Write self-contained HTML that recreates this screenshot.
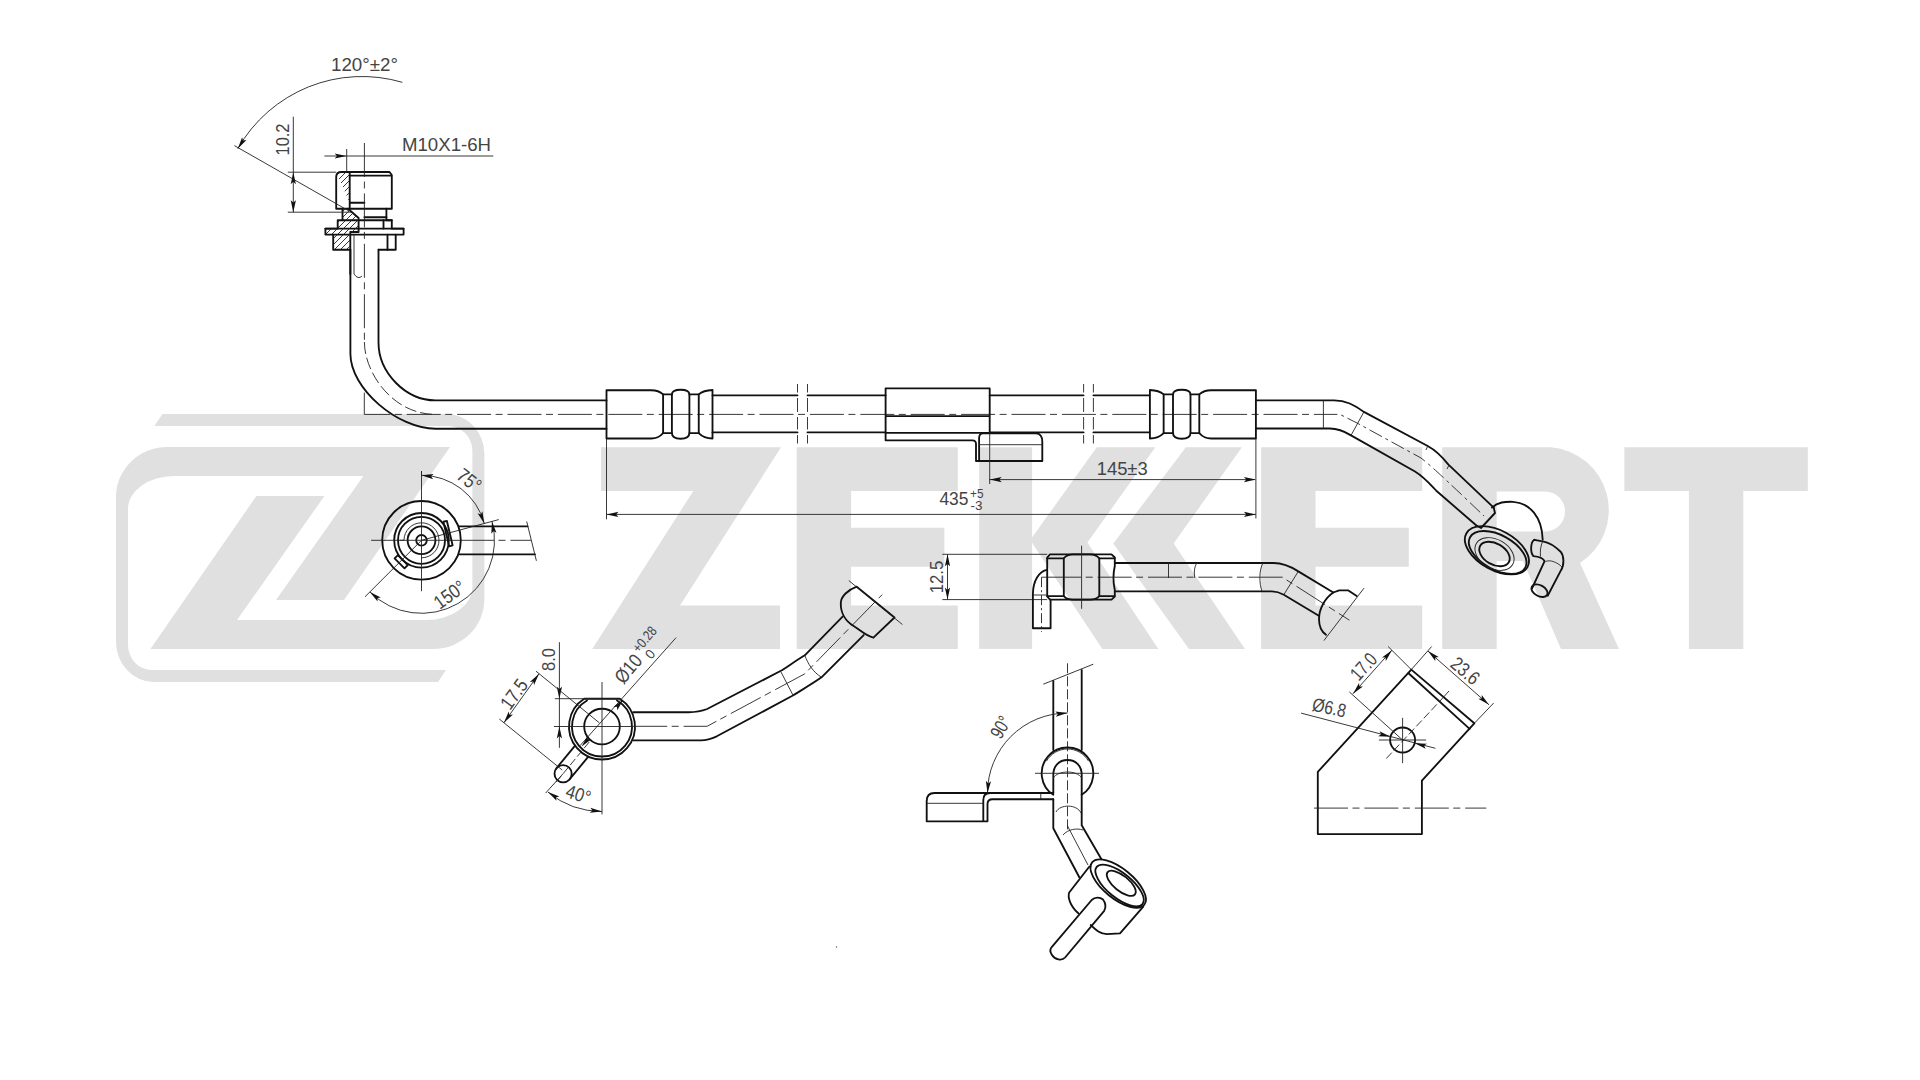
<!DOCTYPE html>
<html><head><meta charset="utf-8"><style>
html,body{margin:0;padding:0;background:#fff;width:1920px;height:1080px;overflow:hidden}
svg{display:block}
text{font-family:"Liberation Sans",sans-serif;fill:#444}
.k{fill:none;stroke:#111;stroke-width:1.85;stroke-linejoin:round;stroke-linecap:round}
.t{fill:none;stroke:#222;stroke-width:0.9}
.c{fill:none;stroke:#222;stroke-width:0.9;stroke-dasharray:34 4.5 7 4.9}
.a{fill:#111;stroke:none}
</style></head>
<body>
<svg width="1920" height="1080" viewBox="0 0 1920 1080">
<g fill="#e0e0e0" stroke="none">
 <path id="lgB" d="M450,447 H167 A51,50 0 0 0 116,497 V642 A38,40 0 0 0 154,682 H438 L446,670 H152 A24,25 0 0 1 128,645 V509 A46,33 0 0 1 174,476 H363.4 L276,600 H344 Z"/>
 <use href="#lgB" transform="rotate(180 300.2 548)"/>
 <path d="M601,447.3 H781 L680,605.6 H780 V648.9 H592.2 L693.3,491.1 H601 Z"/>
 <path id="lE" d="M796.7,447.3 H957.8 V491.1 H851.1 V527.8 H944.4 V566.7 H851.1 V605.6 H957.8 V648.9 H796.7 Z"/>
 <rect x="979.2" y="447.3" width="52.9" height="201.6"/>
 <path d="M1096.8,447.3 H1155.3 L1087.4,542.5 L1158.4,648.9 H1102.4 L1031.9,542.5 L1028.4,542.5 Z"/>
 <path d="M1185.9,447.3 H1241.9 L1173.6,543.5 L1245,648.9 H1189 L1113.3,543.5 Z"/>
 <use href="#lE" transform="translate(464.4 0)"/>
 <path fill-rule="evenodd" d="M1442.2,447.3 H1551 A63,63 0 0 1 1580,563 L1619,648.9 H1561 L1523,561 H1496.7 V648.9 H1442.2 Z M1496.7,491.5 H1545 A20,20 0 0 1 1545,531.5 H1496.7 Z"/>
 <path d="M1624.4,447.3 H1807.8 V491.1 H1743.3 V648.9 H1688.9 V491.1 H1624.4 Z"/>
</g>
<path class="k" d="M336.2,208.7 V177 Q336.2,172 341.5,172 H389.5 L391.8,175 V208.7 Z"/>
<path class="k" d="M349.7,175.6 H391"/>
<path class="k" d="M349.7,173 V202.7 H364.4 M349.7,202.7 V208.7"/>
<path class="k" d="M342.5,208.7 V220.2 H337.7 V228.6 H325.4 V234.6 H333.2 V249.7 H350.3 M378.6,249.7 H395.7 V234.6 H403.6 V228.6 H391.8 V220.2 H386.4 V208.7"/>
<path class="k" d="M342.5,220.2 H391.8 M325.4,228.6 H403.6 M333.2,234.6 H395.7"/>
<path class="k" d="M364.4,217.2 H386.4 M383.5,220.2 V228.6 M387.5,234.6 V249.7 M348,208.7 L358.6,218 V232 H350.3 V274"/>
<path class="t" d="M354,234.6 V274"/>
<path class="t" d="M354,274 Q358,280 362,276"/>
<clipPath id="hc"><path d="M336.2,172 H349.7 V208.7 H342.5 V220.2 H337.7 V228.6 H325.4 V234.6 H333.2 V249.7 H350.3 V232 H358.6 V218 L348,208.7 H349.7 V202.7 Z"/></clipPath>
<path class="t" d="M228,260 L328,160 M234,260 L334,160 M240,260 L340,160 M246,260 L346,160 M252,260 L352,160 M258,260 L358,160 M264,260 L364,160 M270,260 L370,160 M276,260 L376,160 M282,260 L382,160 M288,260 L388,160 M294,260 L394,160 M300,260 L400,160 M306,260 L406,160 M312,260 L412,160 M318,260 L418,160 M324,260 L424,160 M330,260 L430,160 M336,260 L436,160 M342,260 L442,160 M348,260 L448,160 M354,260 L454,160 M360,260 L460,160 M366,260 L466,160 M372,260 L472,160 M378,260 L478,160 M384,260 L484,160 M390,260 L490,160 M396,260 L496,160 M402,260 L502,160 M408,260 L508,160 M414,260 L514,160 " clip-path="url(#hc)"/>
<path class="t" d="M293.3,116.7 L293.3,212.2"/>
<path class="a" d="M293.3,172.2 L290.7,184.2 L293.3,181.8 L295.9,184.2 Z"/>
<path class="a" d="M293.3,212.2 L295.9,200.2 L293.3,202.6 L290.7,200.2 Z"/>
<path class="t" d="M287.8,172.2 L336.2,172.2"/>
<path class="t" d="M287.8,212.2 L351,212.2"/>
<text x="288.5" y="139.5" font-size="19" text-anchor="middle" transform="rotate(-90 288.5 139.5)" textLength="32" lengthAdjust="spacingAndGlyphs">10.2</text>
<path class="t" d="M324.4,156 L493.3,156"/>
<path class="a" d="M346.6,156 L334.6,153.4 L337,156 L334.6,158.6 Z"/>
<path class="t" d="M346.7,149 L346.7,172"/>
<text x="402" y="151" font-size="19" text-anchor="start" textLength="89" lengthAdjust="spacingAndGlyphs">M10X1-6H</text>
<path class="t" d="M237.79,148.65 A143,143 0 0 1 402.37,82.32"/>
<path class="a" d="M237.79,148.65 L246.48,139.98 L242.99,140.58 L242.11,137.16 Z"/>
<path class="t" d="M234.4,145.6 L349,211"/>
<text x="331" y="71" font-size="19" text-anchor="start" textLength="67" lengthAdjust="spacingAndGlyphs">120°±2°</text>
<path class="c" d="M364.4,143 V342"/>
<path class="t" d="M364.4,342 C364.4,372 392,414.4 435.6,414.4" stroke-dasharray="12 4"/>
<path class="t" d="M364.3,392.6 L364.3,414.4"/>
<path class="t" d="M364.3,414.4 L380,414.4"/>
<path class="c" d="M380,414.4 H1323.4" stroke-dashoffset="23.7"/>
<path class="k" d="M350.4,249.7 V353.7 C350.4,388.7 397.6,428.7 435.6,428.7 H606.5"/>
<path class="k" d="M378.5,249.7 V342.6 C378.5,372.6 405.6,400.4 435.6,400.4 H606.5"/>
<g id="fer">
<path class="k" d="M606.5,390.25 H651.25 C657.5,390.25 660,391.5 663.1,394.4 V433.1 C660,436.5 657.5,438.5 651.25,438.5 H606.5 Z"/>
<path class="k" d="M663.1,394.4 H671.9 M663.1,433.1 H671.9"/>
<path class="k" d="M671.9,433.1 V394.4 C671.9,391 675,389.75 680.6,389.75 C686,389.75 689.4,391 689.4,394.4 V433.1 C689.4,437 686,438.75 680.6,438.75 C675,438.75 671.9,437 671.9,433.1 Z"/>
<path class="k" d="M689.4,394.4 H698.75 V433.1 H689.4"/>
<path class="k" d="M698.75,394.4 C702,391.5 706,390.25 712.5,390 V438.5 C706,438.4 702,436.5 698.75,433.1"/>
</g>
<use href="#fer" transform="matrix(-1 0 0 1 1862.4 0)"/>
<path class="k" d="M712.5,395.3 H797.5 M712.5,432.4 H797.5"/>
<path class="k" d="M807.5,395.3 H885.6 M807.5,432.4 H885.6"/>
<path class="k" d="M989.7,395.3 H1083.6 M989.7,432.4 H1083.6"/>
<path class="k" d="M1093.4,395.3 H1149.2 M1093.4,432.4 H1149.2"/>
<path class="t" d="M797.5,384 V392.5 M797.5,398 V412 M797.5,417 V429.5 M797.5,435 V443.5"/>
<path class="t" d="M807.5,384 V392.5 M807.5,398 V412 M807.5,417 V429.5 M807.5,435 V443.5"/>
<path class="t" d="M1083.6,384 V392.5 M1083.6,398 V412 M1083.6,417 V429.5 M1083.6,435 V443.5"/>
<path class="t" d="M1093.4,384 V392.5 M1093.4,398 V412 M1093.4,417 V429.5 M1093.4,435 V443.5"/>
<path class="k" d="M885.6,388.3 H989.7 V432.8 H885.6 Z M885.6,416.1 H989.7"/>
<path class="k" d="M885.6,432.8 V440.3 H972.5 Q976,440.3 976,444 V461 H1042.3 V442 Q1042.3,433.3 1036,433.3 H983 Q979.1,433.3 979.1,438 V461"/>
<path class="t" d="M979.1,444.7 H1042.3"/>
<path class="k" d="M1255.9,400.3 H1334 C1346,400.3 1354,405 1363.9,411.9 L1427.7,446 C1438,451.5 1444,459 1449,465.2 L1493.7,507.7"/>
<path class="k" d="M1255.9,428.5 H1329.8 C1338,428.5 1344,431 1351,435.4 L1415,471.5 C1424,477 1430,484 1436.3,490.7 L1476.7,525.8"/>
<path class="k" d="M1476.7,525.8 L1481,528 L1495,513 L1493.7,507.7"/>
<path class="t" d="M1323.4,400.3 L1323.4,428.5"/>
<path class="t" d="M1363.9,411.9 L1351,435.4"/>
<path class="t" d="M1323.4,414.4 H1340 L1357,423 L1421,458 C1430,465 1440,474 1484,516" stroke-dasharray="14 4 3 4"/>
<path class="t" d="M1427.7,446 L1426,450"/>
<path class="t" d="M1449,465.2 L1447,469"/>
<path class="k" d="M1492,507.5 C1498,502 1505,501.6 1513,501.8 C1530,503 1542,517 1542.7,539.7"/>
<g transform="rotate(28.8 1496.9 550.3)">
<ellipse class="k" cx="1496.9" cy="550.3" rx="34.9" ry="19.75"/>
<ellipse class="k" cx="1498.6" cy="551.8" rx="31.5" ry="17.2"/>
</g>
<g transform="rotate(30 1494.5 554)">
<ellipse class="t" cx="1494.5" cy="554" rx="21" ry="14.5"/>
<ellipse class="k" cx="1494.5" cy="554" rx="16.5" ry="10.5"/>
</g>
<path class="k" d="M1534.4,539.8 L1542.6,541.3 C1550,542.5 1556,547 1560.9,552 C1564,556 1564.5,565 1560.9,570.4 L1547.7,595.8"/>
<ellipse class="k" cx="1539.5" cy="590.7" rx="8.7" ry="5.4" transform="rotate(28 1539.5 590.7)"/>
<path class="k" d="M1532.2,588 L1544.6,561.2 C1543,558 1538,556.5 1533.4,556.1 C1530,552 1530.5,542 1534.4,539.8"/>
<path class="t" d="M1542.6,541.3 C1540.5,546 1540,552 1540.5,556.5 M1545.5,561.5 C1550,559.5 1557,562 1562,567"/>
<path class="t" d="M989.7,432.8 L989.7,484"/>
<path class="t" d="M1255.9,438.5 L1255.9,518.5"/>
<path class="t" d="M606.5,438.5 L606.5,519.4"/>
<path class="t" d="M989.4,479.6 L1255,479.6"/>
<path class="a" d="M989.7,479.6 L1001.7,482.2 L999.3,479.6 L1001.7,477 Z"/>
<path class="a" d="M1255.9,479.6 L1243.9,477 L1246.3,479.6 L1243.9,482.2 Z"/>
<text x="1096.7" y="474.8" font-size="19" text-anchor="start" textLength="51" lengthAdjust="spacingAndGlyphs">145±3</text>
<path class="t" d="M606.5,514.4 L1255.9,514.4"/>
<path class="a" d="M606.5,514.4 L618.5,517 L616.1,514.4 L618.5,511.8 Z"/>
<path class="a" d="M1255.9,514.4 L1243.9,511.8 L1246.3,514.4 L1243.9,517 Z"/>
<text x="939.4" y="505.4" font-size="19" text-anchor="start" textLength="29" lengthAdjust="spacingAndGlyphs">435</text>
<text x="970" y="497.7" font-size="13.5" text-anchor="start" textLength="13.5" lengthAdjust="spacingAndGlyphs">+5</text>
<text x="970.5" y="510.2" font-size="13.5" text-anchor="start" textLength="12" lengthAdjust="spacingAndGlyphs">-3</text>
<circle class="k" cx="421.5" cy="540.3" r="39.3"/>
<circle class="k" cx="421.5" cy="540.3" r="27.3"/>
<circle class="k" cx="421.5" cy="540.3" r="23.5"/>
<circle class="k" cx="421.5" cy="540.3" r="13.9"/>
<circle class="k" cx="421.5" cy="540.3" r="5.3"/>
<path class="t" d="M404,540.3 A17.5,17.5 0 1 1 421.5,557.8"/>
<path class="t" d="M399.5,540.3 L404,540.3"/>
<path class="t" d="M371.1,540.3 L460,540.3"/>
<path class="t" d="M421.5,471.1 L421.5,591.2"/>
<path class="c" d="M460,540.3 H531"/>
<path class="k" d="M443.4,521.7 L446.9,521 L452.6,545.3 L449.1,546.3 Z"/>
<path class="k" d="M394.6,558.3 L397.9,555.1 L407.8,565 L404.5,568.3 Z"/>
<path class="k" d="M459.5,526.4 H527.5 M459.5,554.3 H535"/>
<path class="t" d="M526.7,521.5 L536.4,560.8"/>
<path class="t" d="M421.5,540.3 L498.77,519.59"/>
<path class="t" d="M421.5,540.3 L364.93,596.87"/>
<path class="t" d="M421.5,475.3 A65,65 0 0 1 484.29,523.48"/>
<path class="a" d="M421.5,475.3 L433.16,479.14 L431.05,476.3 L433.71,473.97 Z"/>
<path class="a" d="M484.29,523.48 L482.41,511.34 L480.84,514.51 L477.56,513.21 Z"/>
<path class="t" d="M492.01,521.41 A73,73 0 0 1 369.88,591.92"/>
<path class="a" d="M492.01,521.41 L491.32,533.67 L493.51,530.89 L496.46,532.85 Z"/>
<path class="a" d="M369.88,591.92 L377.57,601.49 L377.34,597.96 L380.84,597.45 Z"/>
<path class="t" d="M421.5,475.3 L421.5,471"/>
<text x="465" y="485.5" font-size="19.5" text-anchor="middle" transform="rotate(38 465 485.5)" textLength="25" lengthAdjust="spacingAndGlyphs">75°</text>
<text x="453.5" y="600" font-size="19.5" text-anchor="middle" transform="rotate(-36 453.5 600)" textLength="34" lengthAdjust="spacingAndGlyphs">150°</text>
<path class="k" d="M584.2,698.7 H619.8 A33,33 0 1 1 584.2,698.7 Z"/>
<path class="k" d="M617,700.52 A30,30 0 1 1 587,700.52"/>
<circle class="k" cx="602" cy="726.5" r="17.8"/>
<path class="k" d="M575.07,745.64 L556.46,768.23"/>
<path class="k" d="M588.35,756.59 L569.74,779.17"/>
<circle class="k" cx="563.1" cy="773.7" r="8.6"/>
<path class="t" d="M589.28,741.93 L554.19,784.5" stroke-dasharray="8 3"/>
<path class="k" d="M633.2,712.2 H688.6 C697,712.2 702,711 707.1,709 L781.9,670.3 C790,665 797,660 804.8,655.3 L842.6,616.6"/>
<path class="k" d="M633.2,740.3 H701 C708,740.3 712,738.5 716.8,736.3 L792.4,695.8 C805,688 815,682 821.5,677.3 L863.7,635.1"/>
<path class="k" d="M856.7,586.7 C848,590 841,596 840.8,603 C840.5,612 845,621 854,626.3 C860,630 866,636 873.4,637.7 L894.5,617.5 Z"/>
<path class="t" d="M848.8,580.6 L902.4,624.5"/>
<path class="t" d="M781,672 L793.3,695.8"/>
<path class="t" d="M804.8,655.3 C808,664 813,672 821.5,677.3"/>
<path class="c" d="M633.2,726.3 H707.1 L804.8,673.8 L882.2,594.6"/>
<path class="t" d="M553.9,726.5 L633.2,726.5"/>
<path class="t" d="M559.4,642.2 L559.4,747.8"/>
<path class="a" d="M559.4,698.7 L562,686.7 L559.4,689.1 L556.8,686.7 Z"/>
<path class="a" d="M559.4,726.5 L556.8,738.5 L559.4,736.1 L562,738.5 Z"/>
<path class="t" d="M554.8,698.7 L619.6,698.7"/>
<text x="555" y="659.5" font-size="19" text-anchor="middle" transform="rotate(-90 555 659.5)" textLength="23" lengthAdjust="spacingAndGlyphs">8.0</text>
<path class="t" d="M539,673.7 L503.9,722.8"/>
<path class="a" d="M539,673.7 L529.85,681.89 L533.36,681.47 L534.06,684.94 Z"/>
<path class="a" d="M503.9,722.8 L512.98,714.53 L509.47,714.98 L508.74,711.52 Z"/>
<path class="t" d="M536,671.2 L599.3,722.8"/>
<path class="t" d="M499.3,719 L562.2,770"/>
<text x="519.5" y="698" font-size="19.5" text-anchor="middle" transform="rotate(-54 519.5 698)" textLength="32" lengthAdjust="spacingAndGlyphs">17.5</text>
<path class="t" d="M676.1,637.6 L579.8,745.9"/>
<path class="a" d="M623.3,699.6 L613.44,706.91 L616.97,706.82 L617.35,710.34 Z"/>
<path class="a" d="M581.6,746.5 L591.47,739.19 L587.93,739.28 L587.56,735.76 Z"/>
<text x="633.4" y="673.2" font-size="19.5" text-anchor="middle" transform="rotate(-50 633.4 673.2)" textLength="31" lengthAdjust="spacingAndGlyphs">Ø10</text>
<text x="648.2" y="642.4" font-size="14" text-anchor="middle" transform="rotate(-50 648.2 642.4)" textLength="29" lengthAdjust="spacingAndGlyphs">+0.28</text>
<text x="653.6" y="657.1" font-size="13.5" text-anchor="middle" transform="rotate(-50 653.6 657.1)">0</text>
<path class="t" d="M602,682 L602,814.4"/>
<path class="t" d="M563.1,773.7 L545.6,793.1"/>
<path class="t" d="M602,811.5 A85,85 0 0 1 547.93,792.09"/>
<path class="a" d="M602,811.5 L590.34,807.66 L592.45,810.5 L589.79,812.83 Z"/>
<path class="a" d="M547.93,792.09 L556.54,800.84 L555.96,797.35 L559.39,796.49 Z"/>
<text x="576.5" y="800.5" font-size="19" text-anchor="middle" transform="rotate(18 576.5 800.5)" textLength="25" lengthAdjust="spacingAndGlyphs">40°</text>
<path class="t" d="M942.3,554.3 L1047.2,554.3"/>
<path class="t" d="M942.3,599.6 L1047.2,599.6"/>
<path class="t" d="M947.5,554.3 L947.5,599.6"/>
<path class="a" d="M947.5,554.3 L944.9,566.3 L947.5,563.9 L950.1,566.3 Z"/>
<path class="a" d="M947.5,599.6 L950.1,587.6 L947.5,590 L944.9,587.6 Z"/>
<text x="943" y="577" font-size="19" text-anchor="middle" transform="rotate(-90 943 577)" textLength="32.7" lengthAdjust="spacingAndGlyphs">12.5</text>
<path class="k" d="M1050,554.3 H1111.5 L1114.8,557.5 V566 C1113,574 1113,582 1114.8,590 V596.5 L1111.5,599.6 H1050 L1047.2,596.5 V557.5 Z"/>
<path class="k" d="M1047.2,558.3 H1063.8 M1099.3,558.3 H1114.5 M1047.2,596.1 H1063.8 M1099.3,596.1 H1114.5 M1063.8,558.3 V596.1 M1099.3,558.3 V596.1"/>
<path class="k" d="M1063.8,558.3 C1066,555.5 1069,554.3 1073,554.3 H1090 C1094,554.3 1097,555.5 1099.3,558.3 M1063.8,596.1 C1066,598.5 1069,599.6 1073,599.6 H1090 C1094,599.6 1097,598.5 1099.3,596.1"/>
<path class="k" d="M1047.2,569.8 C1039,571 1033,581 1032.9,593.9 V628.2 H1050.6 V599.6"/>
<path class="t" d="M1032.9,595 H1047.2"/>
<path class="t" d="M1041.5,577.2 V632" stroke-dasharray="10 3 2 3"/>
<path class="t" d="M1041.5,577.2 L1047.2,577.2"/>
<path class="t" d="M1081.6,545.7 L1081.6,608.8"/>
<path class="c" d="M1047.2,577.2 H1282.3 L1349.4,620.2"/>
<path class="k" d="M1114.8,563 H1273.5 C1283,563 1290,566 1298.3,571.4 L1333.3,592.5"/>
<path class="k" d="M1114.8,591.3 H1272 C1276,591.3 1280,592.5 1283.8,594.7 L1318.8,615.8"/>
<path class="k" d="M1333.3,592.5 C1325,598 1319,609 1319,619 C1319,627 1322,632 1326,634.8 M1333.3,592.5 L1339.2,590.3 H1348 L1356.7,596.1"/>
<path class="t" d="M1323.9,640.6 L1364,588.1"/>
<path class="t" d="M1168.5,563 L1168.5,578"/>
<path class="t" d="M1197,563 C1194,567 1194,573 1194.8,578 M1263,563 C1259,570 1259,583 1262,591.3"/>
<path class="t" d="M1298.3,571.4 L1283.8,594.7"/>
<path class="k" d="M1053.3,680.8 V750 M1081.7,670 V750"/>
<path class="t" d="M1043.3,684.2 L1093.3,664.2"/>
<path class="t" d="M1067.5,663.3 V830" stroke-dasharray="10 3"/>
<path class="k" d="M1053.3,794.84 A25.8,25.8 0 1 1 1081.7,794.84"/>
<path class="t" d="M1046.46,761.15 A24.3,24.3 0 0 1 1088.54,761.15"/>
<path class="k" d="M1053.3,793 V775 C1053.3,766 1059,760 1067.5,760 C1076,760 1081.7,766 1081.7,775 V825.2 L1101.3,859"/>
<path class="k" d="M1053.3,799.2 V828.3 L1079.3,877.2"/>
<path class="t" d="M1053.3,778 C1058,770 1077,770 1081.7,778 M1056,812 C1060,804 1077,804 1081,813 M1063,835 C1068,829 1077,828 1083,830"/>
<path class="t" d="M1035,773.3 L1099,773.3"/>
<path class="t" d="M1067.5,826 L1088,865"/>
<path class="k" d="M926.7,821.3 V801 Q926.7,793 934.5,793 H1053.3 M987.5,821.3 V804 Q987.5,799.2 992.5,799.2 H1053.3 M926.7,821.3 H987.5 M983.3,821.3 V800 Q983.3,793 990,793"/>
<path class="t" d="M926.7,803.3 L983.3,803.3"/>
<path class="t" d="M1040.8,793 L1040.8,799.2"/>
<path class="t" d="M987.5,793 A80,80 0 0 1 1067.5,713"/>
<path class="a" d="M1067.5,713 L1055.31,711.57 L1057.94,713.92 L1055.81,716.74 Z"/>
<path class="a" d="M987.5,793 L991.06,781.25 L988.28,783.43 L985.88,780.83 Z"/>
<text x="1006.5" y="730.5" font-size="19.5" text-anchor="middle" transform="rotate(-60 1006.5 730.5)" textLength="22" lengthAdjust="spacingAndGlyphs">90°</text>
<g transform="rotate(39 1118.2 883.6)">
<ellipse class="k" cx="1118.2" cy="883.6" rx="33.6" ry="14.9"/>
<ellipse class="k" cx="1120.5" cy="884.2" rx="29.5" ry="12.3"/>
<ellipse class="k" cx="1120.4" cy="881.4" rx="17.6" ry="7.6"/>
</g>
<path class="k" d="M1089.2,866.7 L1069.2,892.5 C1067.5,897 1070,906 1078.3,913.3 M1090.8,925 C1096,930 1100,934 1106.7,934.2 L1120,933.3 L1143.3,906.7"/>
<path class="k" d="M1051.7,947.2 L1091.7,900 C1095,897 1100,897 1103,899.5 C1106,903 1106,908 1104.2,910.8 L1065.1,957.5 C1062,961 1055,960 1052,955 C1050,952 1050,949 1051.7,947.2 Z"/>
<circle cx="836.5" cy="947" r="0.7" fill="#555"/>
<path class="k" d="M1317.8,834.1 V771.9 L1411.3,669.6 L1474.3,723.3 L1421.9,780.7 V834.1 Z"/>
<path class="k" d="M1408.5,673.3 L1469.6,728.9"/>
<circle class="k" cx="1402.6" cy="740" r="12.5"/>
<path class="t" d="M1402.6,717.8 L1402.6,763.1"/>
<path class="t" d="M1378.9,740 L1426.1,740"/>
<path class="t" d="M1386.3,758.5 L1438.1,703" stroke-dasharray="8 3"/>
<path class="t" d="M1440,701 L1449,691"/>
<path class="c" d="M1314,808.1 H1486.3"/>
<path class="t" d="M1402.6,740 L1349.3,691.9"/>
<path class="t" d="M1411.3,669.6 L1388.1,646.5"/>
<path class="t" d="M1353,693.7 L1391.9,650.2"/>
<path class="a" d="M1353,693.7 L1362.92,686.47 L1359.39,686.53 L1359.04,683.01 Z"/>
<path class="a" d="M1391.9,650.2 L1381.98,657.44 L1385.52,657.37 L1385.86,660.89 Z"/>
<text x="1368.5" y="671" font-size="19.5" text-anchor="middle" transform="rotate(-48 1368.5 671)" textLength="29" lengthAdjust="spacingAndGlyphs">17.0</text>
<path class="t" d="M1411.3,669.6 L1431.7,646.5"/>
<path class="t" d="M1474.3,723.3 L1493.7,703"/>
<path class="t" d="M1428,651.1 L1489,704.8"/>
<path class="a" d="M1428,651.1 L1435.29,660.98 L1435.21,657.44 L1438.73,657.08 Z"/>
<path class="a" d="M1489,704.8 L1481.71,694.92 L1481.79,698.46 L1478.27,698.82 Z"/>
<text x="1461" y="676" font-size="19.5" text-anchor="middle" transform="rotate(40 1461 676)" textLength="31" lengthAdjust="spacingAndGlyphs">23.6</text>
<path class="t" d="M1301.1,713.1 L1435.4,748.3"/>
<path class="a" d="M1390.5,736.8 L1379.56,731.22 L1381.22,734.35 L1378.23,736.25 Z"/>
<path class="a" d="M1414.7,743.2 L1425.66,748.74 L1423.99,745.62 L1426.97,743.71 Z"/>
<text x="1328" y="714" font-size="19" text-anchor="middle" transform="rotate(12 1328 714)" textLength="34" lengthAdjust="spacingAndGlyphs">Ø6.8</text>
</svg>
</body></html>
